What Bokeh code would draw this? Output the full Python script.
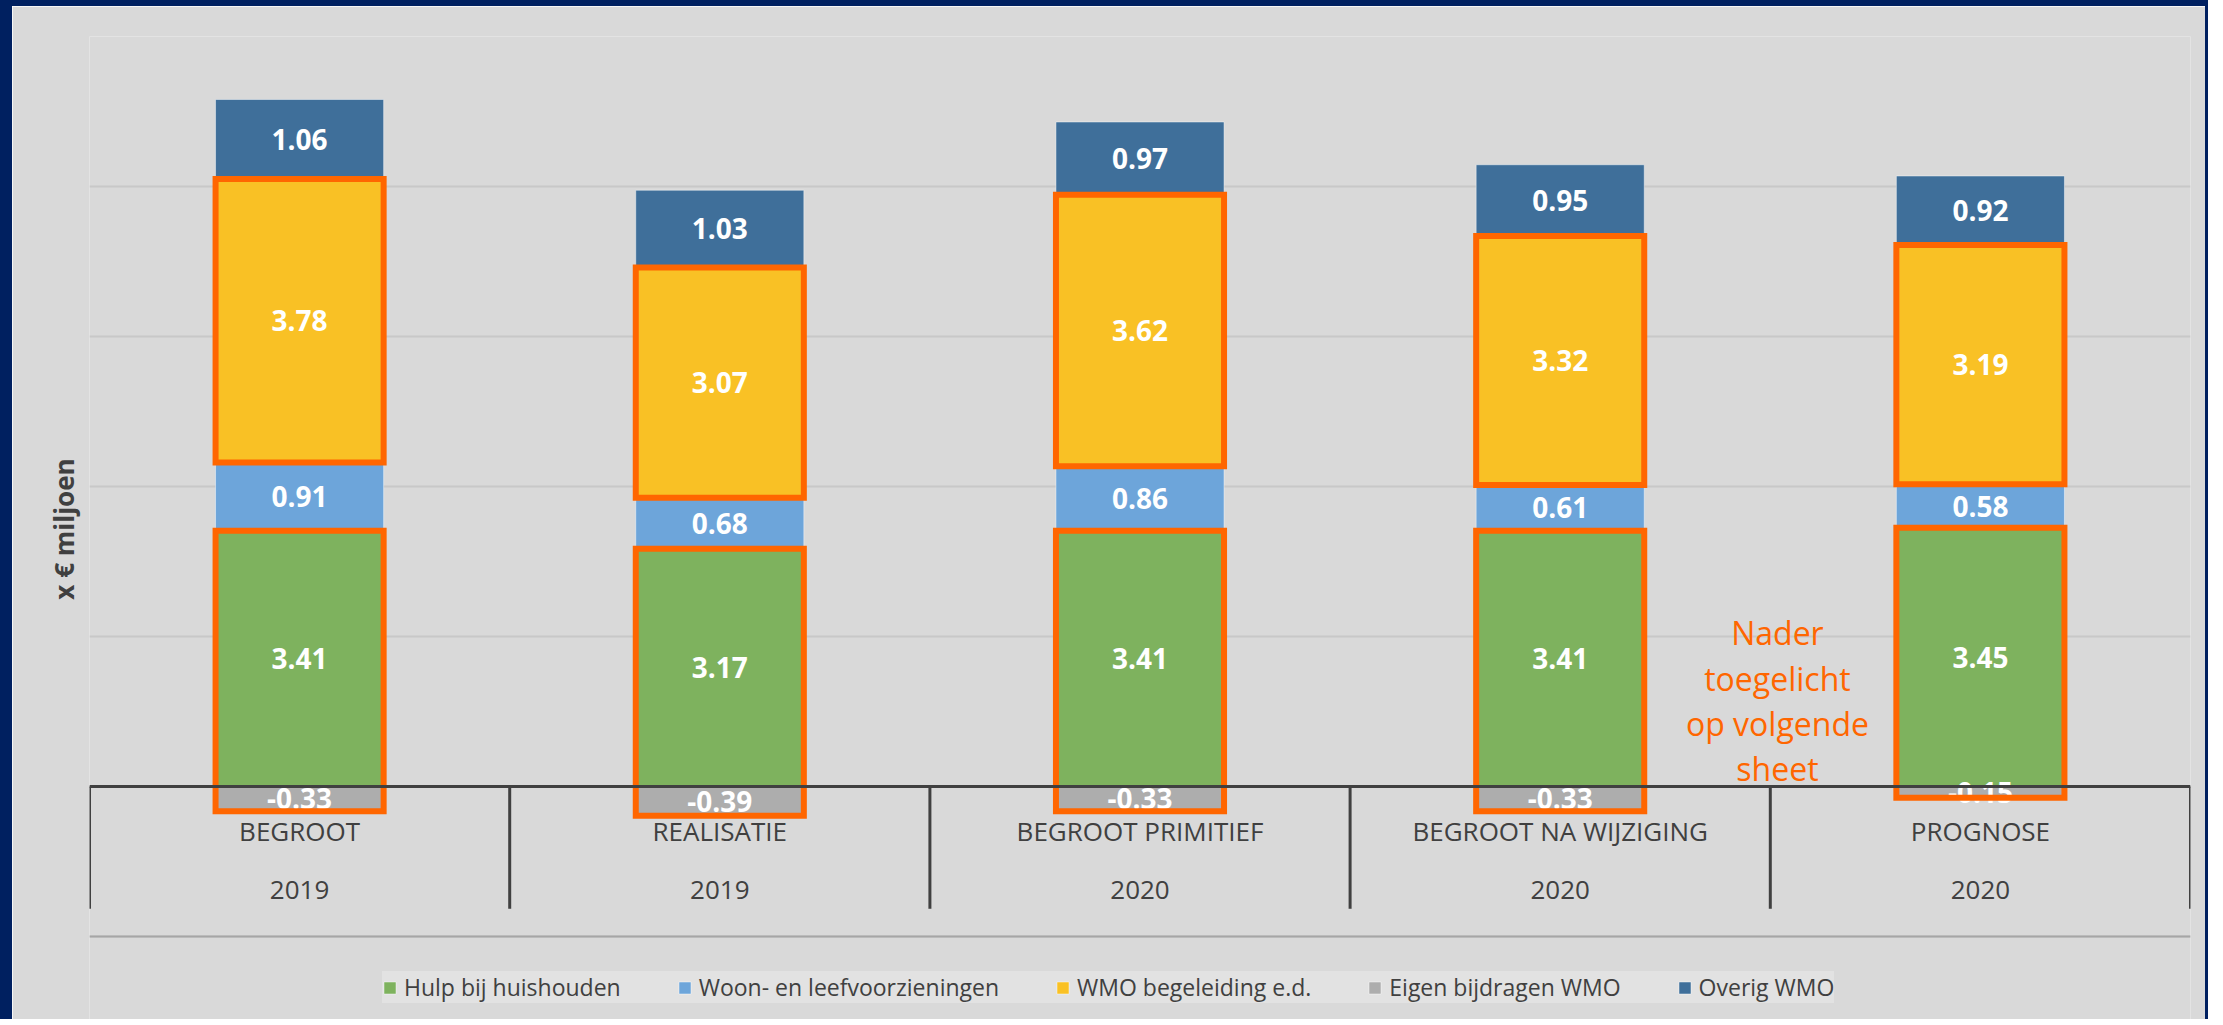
import numpy as np
from bokeh.plotting import figure
from bokeh.models import Range1d, FixedTicker, Legend, LegendItem, Span, Label
from bokeh.core.properties import value
from bokeh.embed import file_html
from bokeh.resources import INLINE

# ---------------- data ----------------
categories = ["BEGROOT", "REALISATIE", "BEGROOT PRIMITIEF", "BEGROOT NA WIJZIGING", "PROGNOSE"]
years = ["2019", "2019", "2020", "2020", "2020"]
hulp_bij_huishouden = [3.41, 3.17, 3.41, 3.41, 3.45]
woon_leefvoorzieningen = [0.91, 0.68, 0.86, 0.61, 0.58]
wmo_begeleiding = [3.78, 3.07, 3.62, 3.32, 3.19]
eigen_bijdragen = [-0.33, -0.39, -0.33, -0.33, -0.15]
overig_wmo = [1.06, 1.03, 0.97, 0.95, 0.92]
series_names = ["Hulp bij huishouden", "Woon- en leefvoorzieningen",
                "WMO begeleiding e.d.", "Eigen bijdragen WMO", "Overig WMO"]
y_ticks = [-2, 0, 2, 4, 6, 8, 10]
y_label = "x € miljoen"
note_text = "Nader\ntoegelicht\nop volgende\nsheet"

# ---------------- styles ----------------
GREEN = "#7EB25E"
LBLUE = "#6DA5DA"
YELLOW = "#F9C125"
GRAY = "#ADADAD"
DBLUE = "#3F6F9A"
ORANGE = "#FF6600"
BG = "#D9D9D9"
NAVY = "#002060"
TXT = "#404040"
FONT = "Open Sans"

n = len(categories)
xc = np.arange(n) + 0.5
hulp = np.array(hulp_bij_huishouden)
woon = np.array(woon_leefvoorzieningen)
wmo = np.array(wmo_begeleiding)
eig = np.array(eigen_bijdragen)
ov = np.array(overig_wmo)

b_woon = hulp
t_woon = hulp + woon
t_wmo = t_woon + wmo
t_ov = t_wmo + ov

# frame extends below the -2 gridline so the legend sits inside it
p = figure(width=2208, height=1019,
           x_range=Range1d(0, n), y_range=Range1d(-3.133, y_ticks[-1]),
           output_backend="svg", toolbar_location=None,
           x_axis_location=None,
           min_border_left=77, min_border_right=30,
           min_border_top=30, min_border_bottom=4)
p.background_fill_color = BG
p.border_fill_color = BG
p.outline_line_color = None
p.styles = {"border-left": f"12px solid {NAVY}", "border-top": f"6px solid {NAVY}",
            "border-right": f"3px solid {NAVY}"}

# y axis: only its title, centred on the -2..10 span
yax = p.yaxis[0]
yax.ticker = FixedTicker(ticks=[])
yax.bounds = (y_ticks[0], y_ticks[-1])
yax.major_label_standoff = 0
yax.major_tick_out = 0
yax.major_tick_in = 0
yax.minor_tick_out = 0
yax.minor_tick_in = 0
yax.axis_line_color = None
yax.axis_label = y_label
yax.axis_label_text_font = FONT
yax.axis_label_text_font_style = "bold"
yax.axis_label_text_font_size = "26px"
yax.axis_label_text_color = TXT
yax.axis_label_standoff = 8

p.xgrid.visible = False
p.ygrid.ticker = FixedTicker(ticks=y_ticks)
p.ygrid.grid_line_color = "#C8C8C8"
p.ygrid.grid_line_width = 2

bar_kw = dict(width=0.4, line_color="white", line_alpha=0.45, line_width=1)
r_hulp = p.vbar(x=xc, bottom=0, top=hulp, fill_color=GREEN, **bar_kw)
r_woon = p.vbar(x=xc, bottom=b_woon, top=t_woon, fill_color=LBLUE, **bar_kw)
r_wmo = p.vbar(x=xc, bottom=t_woon, top=t_wmo, fill_color=YELLOW, **bar_kw)
r_ov = p.vbar(x=xc, bottom=t_wmo, top=t_ov, fill_color=DBLUE, **bar_kw)
r_eig = p.vbar(x=xc, bottom=eig, top=0, fill_color=GRAY, **bar_kw)

# bottom line and category axis at zero
p.add_layout(Span(location=y_ticks[0], dimension="width", line_color="#A6A6A6", line_width=2))
p.add_layout(Span(location=0, dimension="width", line_color=TXT, line_width=3))
bounds = np.arange(n + 1)
p.segment(x0=bounds, x1=bounds, y0=0, y1=-1.63, line_color=TXT, line_width=3)

lab_kw = dict(text_color="white", text_font=value(FONT), text_font_style="bold",
              text_font_size="28px", text_align="center", text_baseline="middle")
for bot, top, vals in [(0, hulp, hulp), (b_woon, t_woon, woon), (t_woon, t_wmo, wmo),
                       (t_wmo, t_ov, ov), (eig, 0, eig)]:
    mid = (np.asarray(bot) + np.asarray(top)) / 2.0 * np.ones(n)
    p.text(x=xc, y=mid, text=[f"{v:.2f}" for v in vals], **lab_kw)

# orange highlight frames
box_kw = dict(fill_color=None, line_color=ORANGE, line_width=6, line_join="miter")
p.quad(left=xc - 0.2, right=xc + 0.2, bottom=eig, top=hulp, **box_kw)
p.quad(left=xc - 0.2, right=xc + 0.2, bottom=t_woon, top=t_wmo, **box_kw)

cat_kw = dict(text_color=TXT, text_font=value(FONT), text_font_size="26px",
              text_align="center", text_baseline="middle")
p.text(x=xc, y=-0.587, text=categories, **cat_kw)
p.text(x=xc, y=-1.385, text=years, **cat_kw)

p.add_layout(Label(x=4.017, y=1.145, text=note_text, text_color=ORANGE,
                   text_font=FONT, text_font_size="32px", text_align="center",
                   text_baseline="middle", text_line_height=1.05))

legend = Legend(items=[LegendItem(label=series_names[0], renderers=[r_hulp]),
                       LegendItem(label=series_names[1], renderers=[r_woon]),
                       LegendItem(label=series_names[2], renderers=[r_wmo]),
                       LegendItem(label=series_names[3], renderers=[r_eig]),
                       LegendItem(label=series_names[4], renderers=[r_ov])],
                orientation="horizontal", location=(293, 18))
legend.background_fill_color = "#E2E2E2"
legend.background_fill_alpha = 1
legend.border_line_color = None
legend.label_text_font = FONT
legend.label_text_font_size = "23px"
legend.label_text_color = TXT
legend.label_height = 28
legend.glyph_width = 15
legend.glyph_height = 15
legend.label_standoff = 7
legend.spacing = 56
legend.padding = 17
legend.margin = 0
p.add_layout(legend, "center")

open("out.html", "w").write(file_html(p, INLINE))
